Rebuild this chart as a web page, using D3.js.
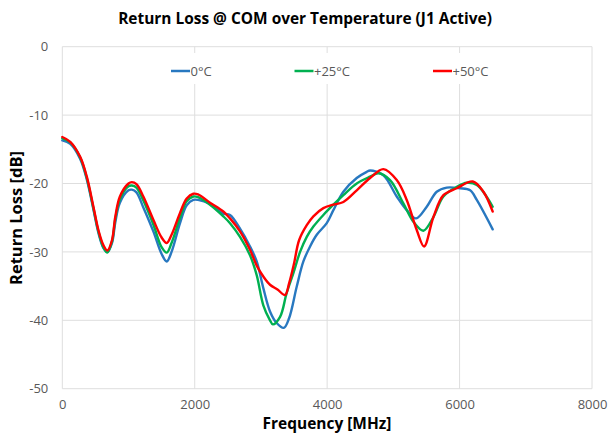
<!DOCTYPE html>
<html><head><meta charset="utf-8">
<script src="https://cdn.jsdelivr.net/npm/d3@7"></script>
<style>body{margin:0;background:#fff}svg{display:block}</style>
</head><body><div id="chart"></div>
<script>
const seriesNames = ["0°C", "+25°C", "+50°C"];
const seriesColors = ["#2878C0", "#00B050", "#FF0000"];
const xTicks = [0, 2000, 4000, 6000, 8000];
const yTicks = [0, -10, -20, -30, -40, -50];

const freq0 = [0,120,270,370,470,545,620,680,750,800,870,1000,1050,1120,1224,1375,1500,1577,1650,1778,1879,1979,2050,2231,2432,2533,2684,2835,2936,3036,3137,3238,3345,3425,3540,3641,3742,3843,3994,4094,4245,4447,4598,4648,4849,5051,5202,5343,5504,5655,5806,6008,6159,6260,6500];
const rl0 = [-13.7,-14.2,-16.4,-19.4,-23.8,-27.2,-29.4,-30.0,-28.7,-25.7,-22.8,-21.0,-20.9,-21.3,-23.5,-27.0,-30.3,-31.4,-30.0,-25.8,-23.2,-22.4,-22.4,-23.0,-24.4,-24.6,-26.6,-29.2,-31.4,-35.3,-38.7,-40.4,-41.1,-39.7,-35.1,-31.4,-29.2,-27.5,-25.8,-23.9,-21.2,-19.2,-18.3,-18.1,-18.8,-21.9,-23.9,-25.1,-23.4,-21.2,-20.6,-20.7,-21.0,-22.4,-26.7];

const freq25 = [0,120,270,370,470,545,620,680,750,800,870,1000,1050,1120,1224,1375,1500,1577,1650,1778,1879,1979,2050,2231,2432,2533,2684,2835,2936,3036,3137,3180,3289,3389,3490,3591,3692,3792,3943,4094,4245,4447,4648,4774,4950,5151,5302,5453,5605,5756,5957,6109,6260,6500];
const rl25 = [-13.4,-14.0,-16.2,-19.2,-23.6,-27.0,-29.3,-30.1,-28.5,-25.2,-22.3,-20.4,-20.3,-20.6,-22.5,-26.0,-29.3,-30.1,-28.7,-25.0,-22.6,-21.9,-22.0,-23.1,-24.8,-25.8,-27.8,-30.5,-33.4,-37.8,-40.0,-40.6,-39.5,-36.0,-33.1,-30.0,-27.8,-26.3,-24.6,-23.1,-21.7,-20.0,-19.0,-18.5,-19.5,-22.9,-25.6,-26.9,-24.9,-21.9,-20.5,-19.9,-20.2,-23.4];

const freq50 = [0,120,270,370,470,545,620,680,750,800,870,1000,1050,1120,1224,1375,1500,1577,1650,1778,1879,1979,2050,2231,2432,2533,2684,2835,2936,3036,3137,3250,3364,3425,3500,3576,3692,3792,3943,4094,4245,4447,4648,4849,5051,5202,5353,5464,5605,5756,5957,6200,6360,6500];
const rl50 = [-13.2,-13.9,-16.1,-19.0,-23.4,-26.8,-29.0,-29.8,-28.3,-24.9,-21.9,-20.0,-19.8,-20.1,-21.9,-25.3,-27.9,-28.7,-27.5,-24.3,-22.2,-21.5,-21.6,-22.8,-24.1,-25.1,-27.0,-29.7,-32.0,-33.6,-34.8,-35.5,-36.3,-34.6,-31.7,-28.3,-26.1,-24.8,-23.6,-23.1,-22.7,-21.0,-19.2,-17.9,-19.5,-22.4,-26.8,-29.2,-24.9,-21.7,-20.7,-19.7,-21.2,-24.1];

const allFreq = [freq0, freq25, freq50];
const allRl = [rl0, rl25, rl50];

const W = 610, H = 442;
const svg = d3.select("#chart").append("svg").attr("width", W).attr("height", H);
const x = d3.scaleLinear().domain([0, 8000]).range([62.3, 592]);
const y = d3.scaleLinear().domain([-50, 0]).range([388.7, 46.7]);
const grid = "#dedede", tickCol = "#595959", font = "'Open Sans', sans-serif";

// gridlines
svg.append("g").selectAll("line").data(yTicks).join("line")
  .attr("x1", x(0)).attr("x2", x(8000)).attr("y1", d => y(d)).attr("y2", d => y(d))
  .attr("stroke", grid).attr("stroke-width", 1);
svg.append("g").selectAll("line").data(xTicks).join("line")
  .attr("y1", y(0)).attr("y2", y(-50)).attr("x1", d => x(d)).attr("x2", d => x(d))
  .attr("stroke", grid).attr("stroke-width", 1);

// axes
const fmt = d => String(d);
const xAxis = svg.append("g").attr("transform", `translate(0,${y(-50)})`)
  .call(d3.axisBottom(x).tickValues(xTicks).tickSize(0).tickPadding(11).tickFormat(fmt));
const yAxis = svg.append("g").attr("transform", `translate(${x(0)},0)`)
  .call(d3.axisLeft(y).tickValues(yTicks).tickSize(0).tickPadding(14).tickFormat(fmt));
[xAxis, yAxis].forEach(a => {
  a.select(".domain").remove();
  a.selectAll("text").attr("fill", tickCol).style("font-family", font).style("font-size", "13px");
});

// legend
const legX = [171, 294.5, 433];
const leg = svg.append("g");
leg.append("rect").attr("x", 158).attr("y", 53).attr("width", 340).attr("height", 31).attr("fill", "#fff");
seriesNames.forEach((n, i) => {
  leg.append("line").attr("x1", legX[i]).attr("x2", legX[i] + 19).attr("y1", 71).attr("y2", 71)
    .attr("stroke", seriesColors[i]).attr("stroke-width", 2.5);
  leg.append("text").attr("x", legX[i] + 19.5).attr("y", 75.5).text(n)
    .attr("fill", tickCol).style("font-family", font).style("font-size", "13px");
});

// lines
const line = d3.line().x(d => x(d[0])).y(d => y(d[1])).curve(d3.curveCatmullRom.alpha(0.5));
allFreq.forEach((fs, i) => {
  const pts = fs.map((f, j) => [f, allRl[i][j]]);
  svg.append("path").datum(pts).attr("d", line).attr("fill", "none")
    .attr("stroke", seriesColors[i]).attr("stroke-width", 2.4).attr("stroke-linejoin", "round").attr("stroke-linecap", "round");
});

// titles
function fitText(sel, target) {
  const w = sel.node().getComputedTextLength();
  const fs = parseFloat(sel.style("font-size"));
  sel.style("font-size", (fs * target / w) + "px");
}
const title = svg.append("text").attr("x", 305).attr("y", 24).attr("text-anchor", "middle")
  .text("Return Loss @ COM over Temperature (J1 Active)")
  .style("font-family", font).style("font-weight", "bold").style("font-size", "18px").attr("fill", "#000");
fitText(title, 374);
const xt = svg.append("text").attr("x", 327).attr("y", 429).attr("text-anchor", "middle")
  .text("Frequency [MHz]").style("font-family", font).style("font-weight", "bold").style("font-size", "15px").attr("fill", "#000");
fitText(xt, 129);
const yt = svg.append("text").attr("transform", "translate(22,218) rotate(-90)").attr("text-anchor", "middle")
  .text("Return Loss [dB]").style("font-family", font).style("font-weight", "bold").style("font-size", "15px").attr("fill", "#000");
fitText(yt, 134);
</script></body></html>
